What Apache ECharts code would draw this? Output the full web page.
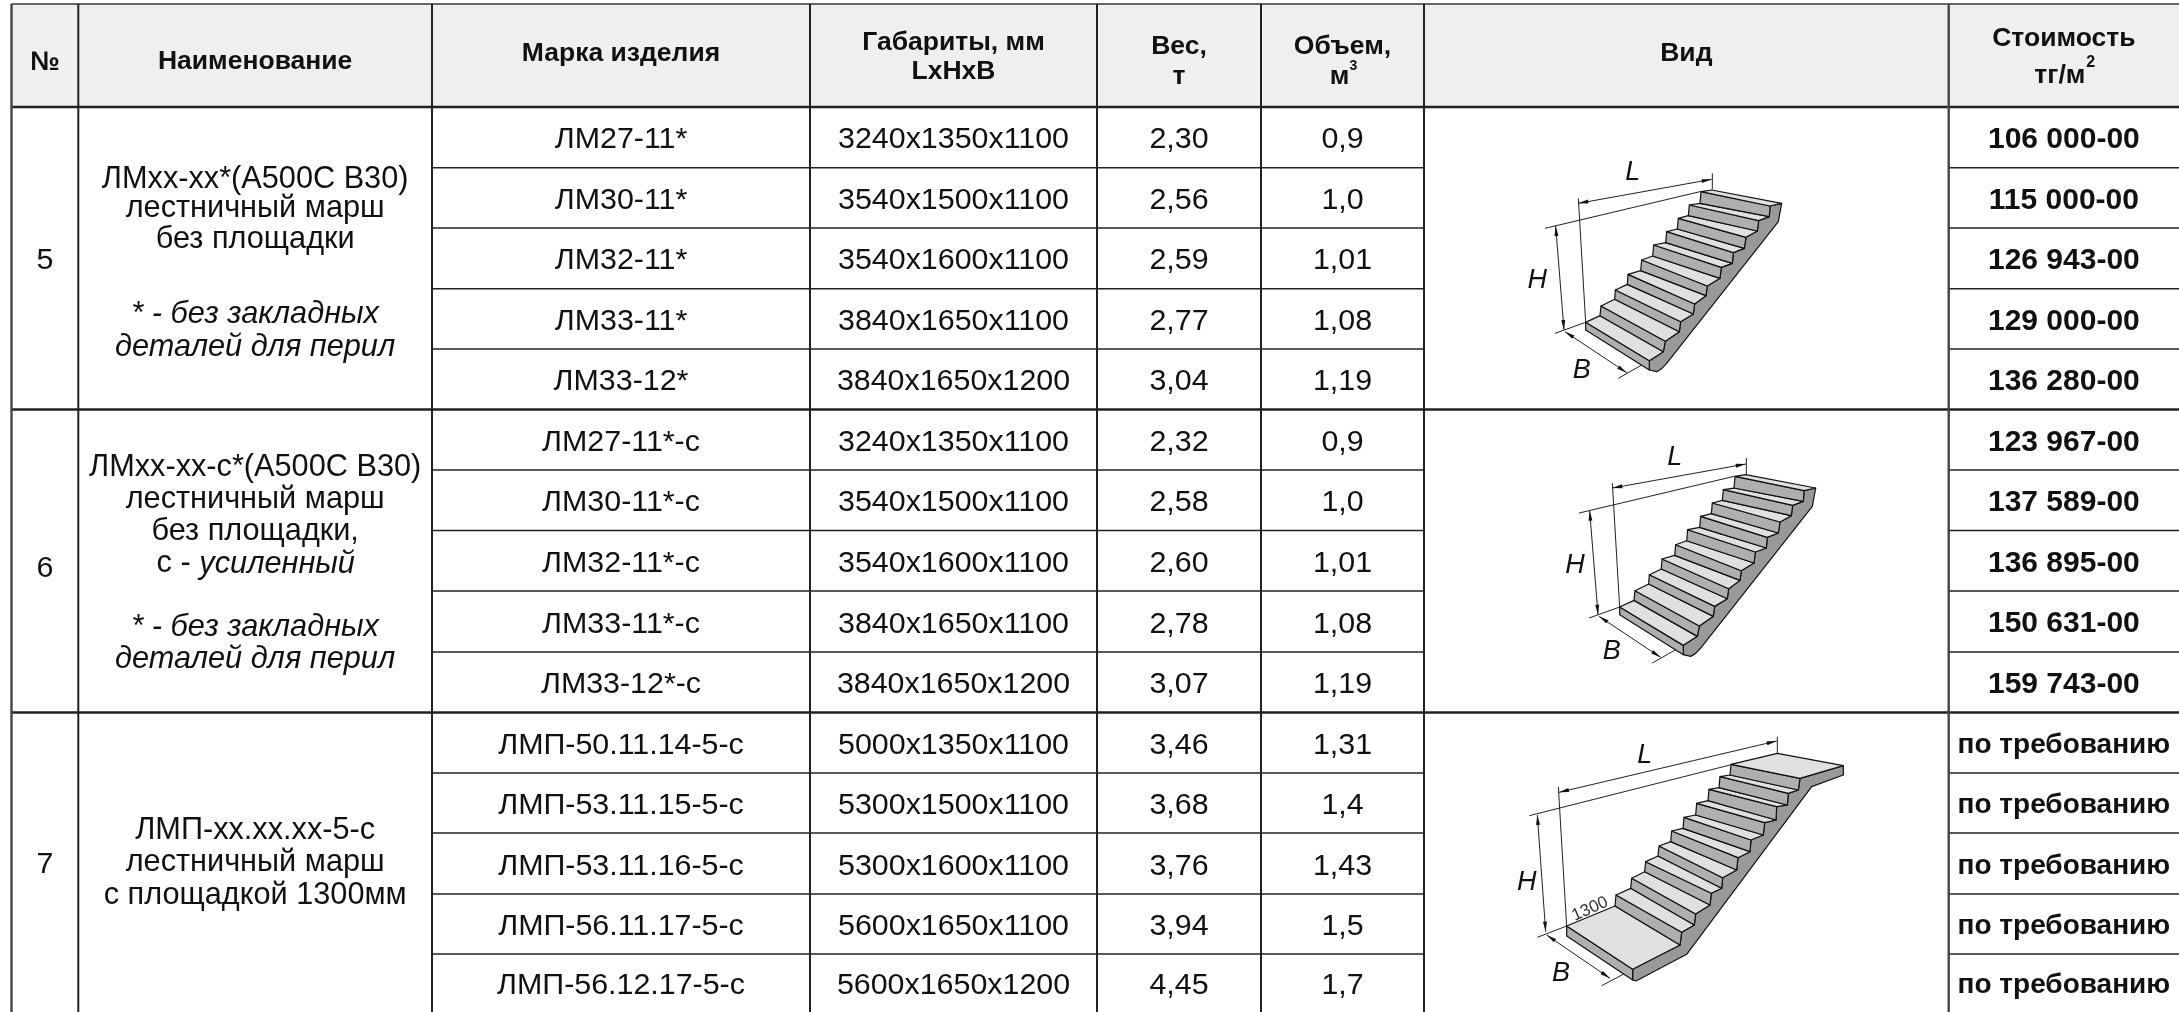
<!DOCTYPE html>
<html><head><meta charset="utf-8">
<style>html,body{margin:0;padding:0;background:#fff}#c{width:2179px;height:1012px}</style>
<script src="https://cdn.jsdelivr.net/npm/echarts@6/dist/echarts.min.js"></script>
</head><body><div id="c"></div>
<script>
// ---------- table content ----------
const headers = ['№','Наименование','Марка изделия','Габариты, мм|LxHxB','Вес,|т','Объем,|м','Вид','Стоимость|тг/м'];
const groupNumbers = ['5','6','7'];
const groupNames = [
  ['ЛМxx-xx*(А500С В30)','лестничный марш','без площадки','* - без закладных','деталей для перил'],
  ['ЛМxx-xx-с*(А500С В30)','лестничный марш','без площадки,','с - усиленный','* - без закладных','деталей для перил'],
  ['ЛМП-xx.xx.xx-5-с','лестничный марш','с площадкой 1300мм']
];
const productMarks = [
  'ЛМ27-11*','ЛМ30-11*','ЛМ32-11*','ЛМ33-11*','ЛМ33-12*',
  'ЛМ27-11*-с','ЛМ30-11*-с','ЛМ32-11*-с','ЛМ33-11*-с','ЛМ33-12*-с',
  'ЛМП-50.11.14-5-с','ЛМП-53.11.15-5-с','ЛМП-53.11.16-5-с','ЛМП-56.11.17-5-с','ЛМП-56.12.17-5-с'];
const dimensions = [
  '3240x1350x1100','3540x1500x1100','3540x1600x1100','3840x1650x1100','3840x1650x1200',
  '3240x1350x1100','3540x1500x1100','3540x1600x1100','3840x1650x1100','3840x1650x1200',
  '5000x1350x1100','5300x1500x1100','5300x1600x1100','5600x1650x1100','5600x1650x1200'];
const weights = ['2,30','2,56','2,59','2,77','3,04','2,32','2,58','2,60','2,78','3,07','3,46','3,68','3,76','3,94','4,45'];
const volumes = ['0,9','1,0','1,01','1,08','1,19','0,9','1,0','1,01','1,08','1,19','1,31','1,4','1,43','1,5','1,7'];
const prices = ['106 000-00','115 000-00','126 943-00','129 000-00','136 280-00',
  '123 967-00','137 589-00','136 895-00','150 631-00','159 743-00',
  'по требованию','по требованию','по требованию','по требованию','по требованию'];

// ---------- layout ----------
const W = 2179, H = 1012;
const colX = [11.5,78.3,432,810,1097,1261,1424,1948.7,2179];
const rowY = [107,167.7,228,288.7,349,409.5,470,530.5,591,652,712.5,773,833,894,954,1012];
const cx = i => (colX[i]+colX[i+1])/2;
const FONT = '"Liberation Sans", Arial, sans-serif';
const BODY = 30.4, NAME = 30.7, HEAD = 26.5, DY = 2;

const texts = [];
const T = (x,y,s,o={}) => texts.push(Object.assign({x,y:y+DY,s,size:BODY,weight:'normal',style:'normal',rot:0,color:'#111'},o));
const B = {weight:'bold',size:HEAD};
T(cx(0),61,headers[0],B); T(cx(1),60,headers[1],B); T(cx(2),52,headers[2],B);
const h3 = headers[3].split('|'); T(cx(3),41,h3[0],B); T(cx(3),70,h3[1],B);
const h4 = headers[4].split('|'); T(cx(4),45,h4[0],B); T(cx(4),75,h4[1],B);
const h5 = headers[5].split('|'); T(cx(5),45,h5[0],B); T(cx(5)-3,75,h5[1],B); T(cx(5)+11,64,'3',{weight:'bold',size:14});
T(cx(6),52,headers[6],B);
const h7 = headers[7].split('|'); T(cx(7),37,h7[0],B); T(cx(7)-4,74,h7[1],B); T(2090.7,61,'2',{weight:'bold',size:16});

const groupNumY = [259,567,863];
const groupLineY = [[178,207,238,312,345],[466,497.6,530,562,625.6,657.6],[828.6,861,894]];
const italicMask = [[0,0,0,1,1],[0,0,0,2,1,1],[0,0,0]];
const N = {size:NAME};
groupNumbers.forEach((n,g)=>{
  T(cx(0),groupNumY[g],n);
  groupNames[g].forEach((s,l)=>{
    const y = groupLineY[g][l], m = italicMask[g][l];
    if (m===1) T(cx(1),y,s,{size:NAME,style:'italic'});
    else if (m===2) { T(cx(1)-81.5,y,'с -',N); T(cx(1)+22,y,'усиленный',{size:NAME,style:'italic'}); }
    else T(cx(1),y,s,N);
  });
});
productMarks.forEach((s,i)=>{
  const y=(rowY[i]+rowY[i+1])/2+0.7;
  T(cx(2),y,s); T(cx(3),y,dimensions[i]); T(cx(4),y,weights[i]); T(cx(5),y,volumes[i]);
  T(cx(7),y,prices[i],{weight:'bold',size:i<10?30:28});
});

// table rules
const rules = [];
const R = (x1,y1,x2,y2,w,c)=>rules.push({x1,y1,x2,y2,w,c});
R(colX[0],4,W,4,2,'#666');
R(colX[0],rowY[0],W,rowY[0],2.4,'#222');
[5,10].forEach(i=>R(colX[0],rowY[i],W,rowY[i],2.4,'#222'));
rowY.slice(1,15).forEach((y,i)=>{ if((i+1)%5){ R(colX[2],y,colX[6],y,1.6,'#222'); R(colX[7],y,W,y,1.6,'#222'); }});
colX.slice(0,8).forEach((x,i)=>R(x,4,x,H,(i===0||i===7)?2.4:2,(i===0||i===7)?'#444':'#222'));

// ---------- illustrations: outline points of the drawn stairs ----------
const flight = {
  frontLeft:[[197,517],[243,468],[286,420],[324,373],[365,330],[401,285],[440,245],[475,205],[508,165],[543,125]],
  backLeft:[[240,497],[284,448],[322,403],[362,362],[398,318],[437,278],[472,237],[505,197],[540,160],[575,120]],
  frontRight:[[388,632],[436,574],[482,515],[524,462],[562,408],[604,352],[640,308],[678,262],[716,212],[750,168]],
  backRight:[[430,605],[478,545],[520,492],[558,437],[600,385],[637,340],[673,295],[712,243],[748,200],[785,160]],
  under:[[775,215],[440,640],[425,656],[410,665],[388,660]],
  front:[[388,660],[197,540]],
  dims:{lLine:[[175,160],[575,88]],lTick:[[577,70],[577,118]],lExt:[[175,145],[197,517]],topExt:[[75,235],[540,125]],
        hLine:[[107,228],[132,540]],baseExt:[[105,550],[197,517]],bLine:[[135,545],[320,668]],bTick:[[295,685],[388,632]]},
  labels:{L:[338,68],H:[52,392],B:[185,660]}
};
const landingFlight = {
  frontLeft:[[200,603],[348,510],[395,460],[437,410],[477,363],[515,318],[552,277],[590,235],[627,193],[660,155],[693,118]],
  backLeft:[[345,543],[392,490],[434,440],[474,393],[512,350],[549,310],[587,270],[624,227],[657,188],[690,150],[832,85]],
  frontRight:[[398,733],[545,622],[587,567],[634,505],[668,458],[714,398],[753,345],[794,293],[830,245],[865,205],[900,160]],
  backRight:[[540,660],[583,600],[630,540],[665,490],[710,435],[750,380],[790,330],[828,285],[862,240],[895,195],[1030,122]],
  under:[[1030,150],[935,185],[560,688],[408,768],[398,765]],
  front:[[398,765],[200,633]],
  dims:{lLine:[[177,202],[830,48]],lTick:[[832,35],[832,85]],lExt:[[175,185],[200,603]],topExt:[[88,272],[690,120]],
        hLine:[[112,270],[137,620]],baseExt:[[112,637],[200,603]],bLine:[[140,630],[330,760]],bTick:[[305,782],[398,733]]},
  labels:{L:[434,90],H:[80,473],B:[183,745]},
  extra:{s:'1300',at:[270,552],rot:24,size:17}
};
const placements = [
  {g:flight,ox:1520,oy:150,shift:{L:[0,0],H:[0,0],B:[0,0]}},
  {g:flight,ox:1554,oy:434.7,shift:{L:[24,0],H:[11,0],B:[-12,-10]}},
  {g:landingFlight,ox:1500,oy:725,shift:{L:[0,0],H:[0,0],B:[0,0]}}
];
const polys = [], lines = [];
const TREAD='#e1dfdf', RISER='#afafaf', SIDE='#999999', STROKE='#111', SW=1.2;
placements.forEach(({g,ox,oy,shift})=>{
  const P = p=>[ox+p[0]/3,oy+p[1]/3];
  const n = g.frontLeft.length;
  const sidePts=[];
  for(let i=0;i<n;i++){ sidePts.push(g.frontRight[i],g.backRight[i]); }
  g.under.forEach(p=>sidePts.push(p));
  polys.push({pts:sidePts.map(P),fill:SIDE,w:SW});
  polys.push({pts:[g.frontLeft[0],g.frontRight[0],...g.front].map(P),fill:RISER,w:SW});
  for(let i=0;i<n;i++){
    polys.push({pts:[g.frontLeft[i],g.backLeft[i],g.backRight[i],g.frontRight[i]].map(P),fill:TREAD,w:SW});
    if(i<n-1) polys.push({pts:[g.backLeft[i],g.frontLeft[i+1],g.frontRight[i+1],g.backRight[i]].map(P),fill:RISER,w:SW});
  }
  const d=g.dims;
  Object.keys(d).forEach(k=>lines.push({a:P(d[k][0]),b:P(d[k][1])}));
  ['lLine','hLine','bLine'].forEach(k=>{
    const a=P(d[k][0]),b=P(d[k][1]);
    [[a,b],[b,a]].forEach(([tip,from])=>{
      const L=Math.hypot(from[0]-tip[0],from[1]-tip[1]),u=[(from[0]-tip[0])/L,(from[1]-tip[1])/L],n2=[-u[1],u[0]];
      polys.push({pts:[tip,[tip[0]+u[0]*10+n2[0]*2,tip[1]+u[1]*10+n2[1]*2],[tip[0]+u[0]*10-n2[0]*2,tip[1]+u[1]*10-n2[1]*2]],fill:'#111',w:0});
    });
  });
  ['L','H','B'].forEach(k=>{const q=P([g.labels[k][0]+shift[k][0],g.labels[k][1]+shift[k][1]]);T(q[0],q[1]-DY,k,{style:'italic',size:27});});
  if(g.extra){const q=P(g.extra.at);T(q[0],q[1]-DY,g.extra.s,{size:g.extra.size,rot:g.extra.rot,color:'#333'});}
});

// ---------- chart ----------
const chart = echarts.init(document.getElementById('c'),null,{width:W,height:H});
const custom = (name,items,render,z)=>({name,type:'custom',coordinateSystem:'cartesian2d',silent:true,clip:false,z,
  data:items.map((it,i)=>[it.x??0,it.y??0,i]),encode:{x:0,y:1},renderItem:(p,api)=>render(items[p.dataIndex],api)});
const line = (a,b,w,c,api)=>{const A=api.coord(a),B=api.coord(b);return {type:'line',shape:{x1:A[0],y1:A[1],x2:B[0],y2:B[1]},style:{stroke:c,lineWidth:w}};};
chart.setOption({
  animation:false,backgroundColor:'#fff',
  grid:{left:0,right:0,top:0,bottom:0,containLabel:false},
  xAxis:{type:'value',min:0,max:W,show:false},
  yAxis:{type:'value',min:0,max:H,inverse:true,show:false},
  series:[
    custom('header',[{x:colX[0]}],(it,api)=>{
      const a=api.coord([colX[0],4]),b=api.coord([W,rowY[0]]);
      return {type:'rect',shape:{x:a[0],y:a[1],width:b[0]-a[0],height:b[1]-a[1]},style:{fill:'#efefef'}};
    },1),
    custom('rules',rules,(r,api)=>line([r.x1,r.y1],[r.x2,r.y2],r.w,r.c,api),2),
    custom('dimension lines',lines,(l,api)=>line(l.a,l.b,1,'#222',api),3),
    custom('stairs',polys,(q,api)=>({type:'polygon',shape:{points:q.pts.map(p=>api.coord(p))},
      style:{fill:q.fill,stroke:q.w?STROKE:null,lineWidth:q.w,lineJoin:'round'}}),4),
    custom('texts',texts,(t,api)=>{
      const c=api.coord([t.x,t.y]);
      return {type:'text',x:c[0],y:c[1],rotation:t.rot*Math.PI/180,style:{text:t.s,
        fontFamily:FONT,fontSize:t.size,fontWeight:t.weight,fontStyle:t.style,fill:t.color,align:'center',verticalAlign:'middle'}};
    },5)
  ]
});
</script></body></html>
